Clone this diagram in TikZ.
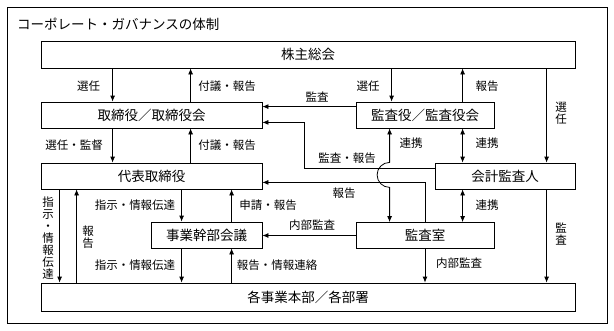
\documentclass[tikz,border=0pt]{standalone}
\usepackage{fontspec}
\setmainfont{Noto Sans CJK JP}
\usetikzlibrary{arrows.meta}

\begin{document}
\begin{tikzpicture}[x=1pt, y=-1pt,
    box/.style={draw, line width=0.8pt, minimum height=26pt, inner sep=0pt, font=\fontsize{13.5}{14}\selectfont},
    lbl/.style={inner sep=0pt, font=\fontsize{11.5}{12}\selectfont},
    vlbl/.style={lbl, align=center},
    arr/.style={line width=0.8pt, -{Latex[length=6pt,width=5pt]}},
    darr/.style={line width=0.8pt, {Latex[length=6pt,width=5pt]}-{Latex[length=6pt,width=5pt]}}]

    \useasboundingbox (0,0) rectangle (614,330);
    \draw[line width=1pt] (7,7) rectangle (607,323);
    \node[lbl, anchor=west, font=\fontsize{13.5}{14}\selectfont] (title) at (17,24) {コーポレート・ガバナンスの体制};

    % Draw nodes
    \node[box, minimum width=534pt, minimum height=27pt] (soukai) at (308,54.5) {株主総会};
    \node[box, minimum width=221pt] (torishimari) at (151.5,115) {取締役／取締役会};
    \node[box, minimum width=221pt] (daihyo) at (151.5,176) {代表取締役};
    \node[box, minimum width=111pt] (kanbu) at (206.5,235) {事業幹部会議};
    \node[box, minimum width=534pt, minimum height=28pt] (honbu) at (308,297) {各事業本部／各部署};
    \node[box, minimum width=138pt] (kansayaku) at (425,115) {監査役／監査役会};
    \node[box, minimum width=140pt] (kaikei) at (505,176) {会計監査人};
    \node[box, minimum width=138pt] (kansashitsu) at (425,235.5) {監査室};

    % Draw connections
    \draw[arr] ([xshift=72]soukai.south west) -- ([xshift=72]torishimari.north west);
    \draw[arr] ([xshift=150]torishimari.north west) -- ([xshift=150]soukai.south west);
    \draw[arr] ([xshift=72]torishimari.south west) -- ([xshift=72]daihyo.north west);
    \draw[arr] ([xshift=150]daihyo.north west) -- ([xshift=150]torishimari.south west);
    \draw[arr] ([xshift=36]kansayaku.north west |- soukai.south) -- ([xshift=36]kansayaku.north west);
    \draw[arr] ([xshift=107]kansayaku.north west) -- ([xshift=107]kansayaku.north west |- soukai.south);
    \draw[arr] ([xshift=112]kaikei.north west |- soukai.south) -- ([xshift=112]kaikei.north west);
    \draw[arr] ([yshift=-5]kansayaku.north west) -- ([yshift=-5]kansayaku.north west -| torishimari.east);
    \draw[arr] ([yshift=-6]kaikei.north west) -| ([xshift=42,yshift=6]torishimari.south east) -- ([yshift=6]torishimari.south east);
    \draw[darr] ([xshift=34]kansayaku.south west) -- ++(0,34) arc[start angle=90, end angle=270, radius=12.5pt] -- ([xshift=34]kansashitsu.north west);
    \draw[darr] ([xshift=107]kansayaku.south west) -- ([xshift=107]kansayaku.south west |- kaikei.north);
    \draw[darr] ([xshift=107]kansashitsu.north west |- kaikei.south) -- ([xshift=107]kansashitsu.north west);
    \draw[arr] (kansashitsu.north) |- ([yshift=7]daihyo.south east);
    \draw[arr] (kansashitsu.west) -- (kansashitsu.west -| kanbu.east);
    \draw[arr] (kansashitsu.south) -- (kansashitsu.south |- honbu.north);
    \draw[arr] ([xshift=112]kaikei.south west) -- ([xshift=112]kaikei.south west |- honbu.north);
    \draw[arr] ([xshift=19]daihyo.south west) -- ([xshift=19]honbu.north west);
    \draw[arr] ([xshift=36]honbu.north west) -- ([xshift=36]daihyo.south west);
    \draw[arr] ([xshift=31]kanbu.north west |- daihyo.south) -- ([xshift=31]kanbu.north west);
    \draw[arr] ([xshift=81]kanbu.north west) -- ([xshift=81]kanbu.north west |- daihyo.south);
    \draw[arr] ([xshift=31]kanbu.south west) -- ([xshift=31]kanbu.south west |- honbu.north);
    \draw[arr] ([xshift=81]kanbu.south west |- honbu.north) -- ([xshift=81]kanbu.south west);

    % Labels
    \node[lbl] (l-senin1) at (88.5,86) {選任};
    \node[lbl] (l-fugi1) at (227,86) {付議・報告};
    \node[lbl] (l-senin2) at (74,145) {選任・監督};
    \node[lbl] (l-fugi2) at (227,145) {付議・報告};
    \node[lbl] (l-senin3) at (368,86) {選任};
    \node[lbl] (l-houkoku1) at (487,86) {報告};
    \node[vlbl] (l-senin4) at (561,113.5) {選\\任};
    \node[lbl] (l-kansa1) at (317,97) {監査};
    \node[lbl] (l-kansahoukoku) at (347,158) {監査・報告};
    \node[lbl] (l-renkei1) at (411,143) {連携};
    \node[lbl] (l-renkei2) at (487,143) {連携};
    \node[lbl] (l-renkei3) at (487,205) {連携};
    \node[lbl] (l-houkoku2) at (344,193) {報告};
    \node[lbl] (l-naibu1) at (312,225) {内部監査};
    \node[lbl] (l-naibu2) at (459,263) {内部監査};
    \node[vlbl] (l-kansa2) at (561,234) {監\\査};
    \node[vlbl] (l-shiji1) at (48,238.5) {指\\示\\・\\情\\報\\伝\\達};
    \node[vlbl] (l-houkoku3) at (88,237) {報\\告};
    \node[lbl] (l-shiji2) at (135,205) {指示・情報伝達};
    \node[lbl] (l-shinsei) at (268,205) {申請・報告};
    \node[lbl] (l-shiji3) at (135,265) {指示・情報伝達};
    \node[lbl] (l-renraku) at (277,265) {報告・情報連絡};
\end{tikzpicture}
\end{document}
